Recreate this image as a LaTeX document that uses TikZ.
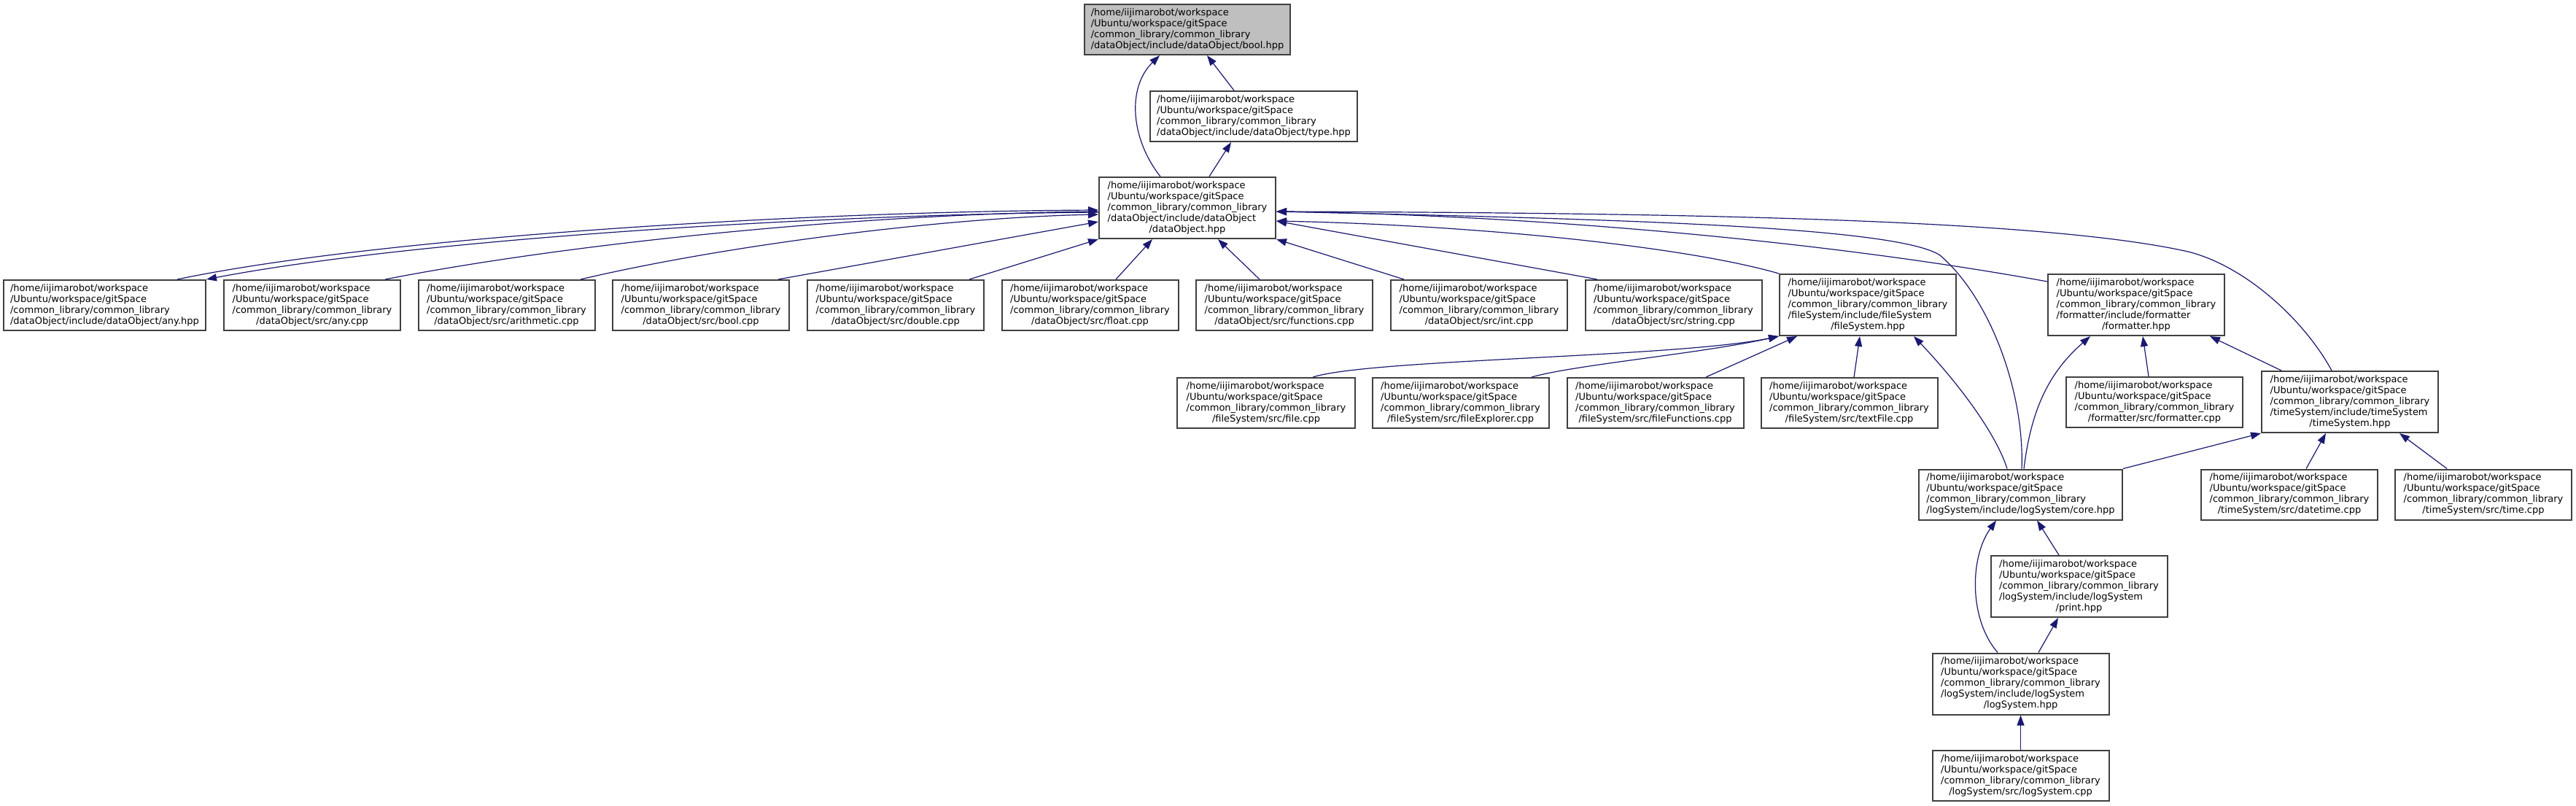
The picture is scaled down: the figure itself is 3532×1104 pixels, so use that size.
\documentclass[tikz,border=0pt]{standalone}
\usepackage{fontspec}
\setmainfont{DejaVu Sans}
\usetikzlibrary{arrows.meta,calc}
\definecolor{edgec}{HTML}{191970}
\definecolor{nodeb}{HTML}{404040}
\definecolor{selfill}{HTML}{BFBFBF}
\newcommand{\hdr}{/home/iijimarobot/workspace\\/Ubuntu/workspace/gitSpace\\/common\_library/common\_library}
\newcommand{\lblA}[1]{\begin{tabular}{@{}l@{}}\hdr\\\multicolumn{1}{@{}c@{}}{#1}\end{tabular}}
\newcommand{\lblB}[2]{\begin{tabular}{@{}l@{}}\hdr\\#1\\\multicolumn{1}{@{}c@{}}{#2}\end{tabular}}
\begin{document}
\begin{tikzpicture}[x=1pt,y=-1pt,
  box/.style={draw=nodeb, line width=2pt, fill=white, inner sep=0pt,
    minimum height=69pt, minimum width=242pt, font=\fontsize{13}{15}\selectfont},
  tall/.style={minimum height=84pt},
  edge/.style={draw=edgec, line width=1.2pt, -{Triangle[length=14pt,width=10pt]}}]
\useasboundingbox[fill=white] (0,0) rectangle (3532,1104);
% nodes
\node[box, fill=selfill, minimum width=282pt] (boolh) at (1628,40.5) {\lblA{/dataObject/include/dataObject/bool.hpp}};
\node[box, minimum width=284pt] (typeh) at (1719,159.5) {\lblA{/dataObject/include/dataObject/type.hpp}};
\node[box, tall] (doh) at (1628,285) {\lblB{/dataObject/include/dataObject}{/dataObject.hpp}};
\node[box, minimum width=277pt] (anyh) at (143.5,418.5) {\lblA{/dataObject/include/dataObject/any.hpp}};
\node[box] (anycpp) at (428,418.5) {\lblA{/dataObject/src/any.cpp}};
\node[box] (arith) at (694.5,418.5) {\lblA{/dataObject/src/arithmetic.cpp}};
\node[box] (boolcpp) at (961,418.5) {\lblA{/dataObject/src/bool.cpp}};
\node[box] (double) at (1228,418.5) {\lblA{/dataObject/src/double.cpp}};
\node[box] (float) at (1494.5,418.5) {\lblA{/dataObject/src/float.cpp}};
\node[box] (functions) at (1761,418.5) {\lblA{/dataObject/src/functions.cpp}};
\node[box] (int) at (2028,418.5) {\lblA{/dataObject/src/int.cpp}};
\node[box] (string) at (2294.5,418.5) {\lblA{/dataObject/src/string.cpp}};
\node[box, tall] (fsh) at (2561,418) {\lblB{/fileSystem/include/fileSystem}{/fileSystem.hpp}};
\node[box, tall] (fmth) at (2929,418) {\lblB{/formatter/include/formatter}{/formatter.hpp}};
\node[box, tall] (tsh) at (3222,551) {\lblB{/timeSystem/include/timeSystem}{/timeSystem.hpp}};
\node[box, minimum width=244pt] (filecpp) at (1736,552.5) {\lblA{/fileSystem/src/file.cpp}};
\node[box] (fexpl) at (2002.5,552.5) {\lblA{/fileSystem/src/fileExplorer.cpp}};
\node[box] (ffunc) at (2269.5,552.5) {\lblA{/fileSystem/src/fileFunctions.cpp}};
\node[box] (textfile) at (2535.5,552.5) {\lblA{/fileSystem/src/textFile.cpp}};
\node[box] (fmtcpp) at (2954,551.5) {\lblA{/formatter/src/formatter.cpp}};
\node[box, minimum width=279pt] (core) at (2770.5,678) {\lblA{/logSystem/include/logSystem/core.hpp}};
\node[box] (datetime) at (3139,678) {\lblA{/timeSystem/src/datetime.cpp}};
\node[box] (timecpp) at (3405,678) {\lblA{/timeSystem/src/time.cpp}};
\node[box, tall] (print) at (2850.5,804) {\lblB{/logSystem/include/logSystem}{/print.hpp}};
\node[box, tall] (logh) at (2770.5,937.5) {\lblB{/logSystem/include/logSystem}{/logSystem.hpp}};
\node[box] (logcpp) at (2770.5,1063.5) {\lblA{/logSystem/src/logSystem.cpp}};
% edges: top
\draw[edge] ($(typeh.north)+(-27,0)$) -- ($(boolh.south)+(27,0)$);
\draw[edge] ($(doh.north)+(-37,0)$) .. controls (1550,190) and (1545,120) .. ($(boolh.south)+(-38,0)$);
\draw[edge] ($(doh.north)+(30,0)$) -- ($(typeh.south)+(-31,0)$);
% left side into dataObject
\draw[edge] ($(anyh.north)+(99.5,0)$) .. controls (520,325) and (1100,290) .. ($(doh.west)+(0,3)$);
\draw[edge] ($(doh.west)+(0,6)$) .. controls (1100,294) and (560,330) .. (anyh.north east);
\draw[edge] ($(anycpp.north)+(100,0)$) .. controls (800,330) and (1200,293) .. ($(doh.west)+(0,5)$);
\draw[edge] ($(arith.north)+(101.5,0)$) .. controls (1000,335) and (1300,298) .. ($(doh.west)+(0,9)$);
\draw[edge] ($(boolcpp.north)+(106,0)$) -- ($(doh.west)+(0,19)$);
\draw[edge] ($(double.north)+(101,0)$) -- (doh.south west);
\draw[edge] ($(float.north)+(35.5,0)$) -- ($(doh.south)+(-48,0)$);
\draw[edge] ($(functions.north)+(-34,0)$) -- ($(doh.south)+(42,0)$);
\draw[edge] ($(int.north)+(-103,0)$) -- (doh.south east);
% right side into dataObject
\draw[edge] ($(string.north)+(-104.5,0)$) -- ($(doh.east)+(0,18)$);
\draw[edge] (fsh.north west) .. controls (2300,335) and (2000,308) .. ($(doh.east)+(0,18)$);
\draw[edge] ($(fmth.west)+(0,-32)$) .. controls (2500,330) and (2100,295) .. ($(doh.east)+(0,5)$);
\draw[edge] ($(core.north)+(1.5,0)$) .. controls (2776,540) and (2730,410) .. (2660,350) .. controls (2600,310) and (2200,300) .. ($(doh.east)+(0,5)$);
\draw[edge] ($(tsh.north)+(-25,0)$) .. controls (3160,440) and (3080,365) .. (3000,345) .. controls (2800,300) and (2300,292) .. ($(doh.east)+(0,5)$);
% fileSystem
\draw[edge] ($(filecpp.north)+(64,0)$) .. controls (1880,492) and (2300,490) .. (fsh.south west);
\draw[edge] ($(fexpl.north)+(97.5,0)$) .. controls (2160,500) and (2330,485) .. (fsh.south west);
\draw[edge] ($(ffunc.north)+(69.5,0)$) -- ($(fsh.south)+(-97,0)$);
\draw[edge] ($(textfile.north)+(6.5,0)$) -- ($(fsh.south)+(-11,0)$);
\draw[edge] ($(core.north)+(-18.5,0)$) .. controls (2735,590) and (2680,520) .. ($(fsh.south)+(63,0)$);
% formatter
\draw[edge] ($(core.north)+(4.5,0)$) .. controls (2785,560) and (2810,510) .. ($(fmth.south)+(-63,0)$);
\draw[edge] ($(fmtcpp.north)+(-8,0)$) -- ($(fmth.south)+(9,0)$);
\draw[edge] ($(tsh.north)+(-94,0)$) -- ($(fmth.south)+(101,0)$);
% timeSystem
\draw[edge] (core.north east) -- (tsh.south west);
\draw[edge] ($(datetime.north)+(23,0)$) -- ($(tsh.south)+(-33,0)$);
\draw[edge] ($(timecpp.north)+(-50,0)$) -- ($(tsh.south)+(68,0)$);
% logSystem
\draw[edge] ($(print.north)+(-27.5,0)$) -- ($(core.south)+(22.5,0)$);
\draw[edge] ($(logh.north)+(-31.5,0)$) .. controls (2700,850) and (2700,765) .. ($(core.south)+(-33.5,0)$);
\draw[edge] ($(logh.north)+(24.5,0)$) -- ($(print.south)+(-28.5,0)$);
\draw[edge] (logcpp.north) -- (logh.south);
\end{tikzpicture}
\end{document}
